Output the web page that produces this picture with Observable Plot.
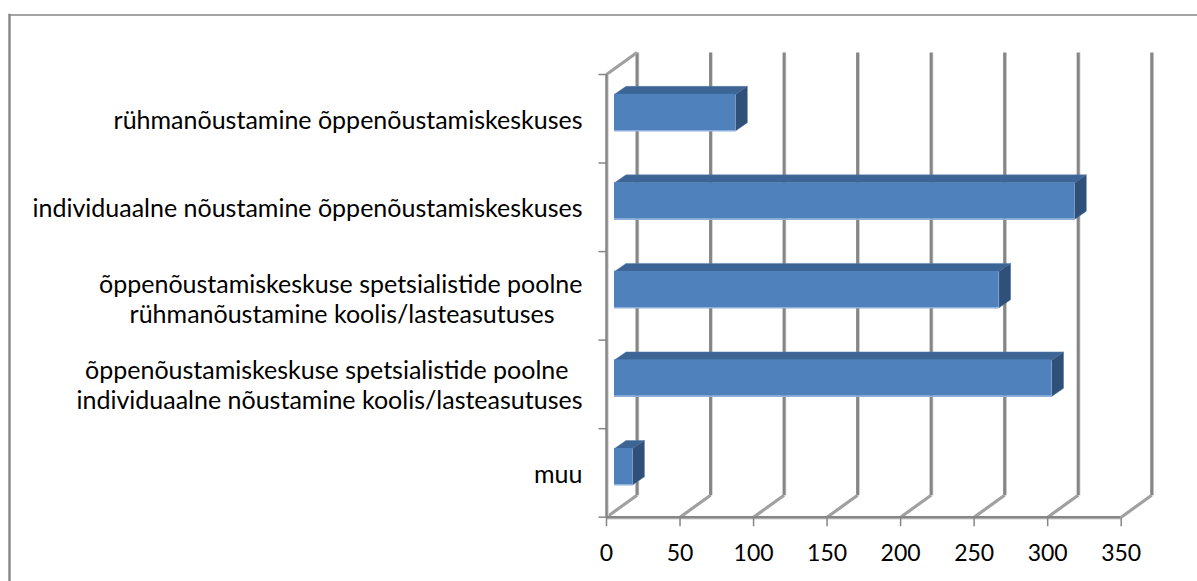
<!DOCTYPE html>
<html><head><meta charset="utf-8">
<script src="https://cdn.jsdelivr.net/npm/d3@7"></script>
<script src="https://cdn.jsdelivr.net/npm/@observablehq/plot@0.6"></script>
<style>html,body{margin:0;padding:0;background:#fff}svg{display:block}</style>
</head><body><script>
const values = [12.5, 297.5, 261.5, 313, 82.5];
const labelLines = [
  ["muu"],
  ["õppenõustamiskeskuse spetsialistide poolne","individuaalne nõustamine koolis/lasteasutuses"],
  ["õppenõustamiskeskuse spetsialistide poolne","rühmanõustamine koolis/lasteasutuses"],
  ["individuaalne nõustamine õppenõustamiskeskuses"],
  ["rühmanõustamine õppenõustamiskeskuses"]
];
const xTicks = [0,50,100,150,200,250,300,350];
const yTicks = [0,1,2,3,4,5];

const ppu = (1120.7-606)/350, ppy = (516.7-74)/5;
const wallX = 30.5/ppu, wallY = 22/ppy;
const gray = "#868686", light = "#d0d0d0";
const barFront = "#4f81bd", barTop = "#3c6494", barSide = "#2f5079", barEdge="#8fb0dc";
const gap = 8/ppu, lift = 8.5/ppy, depthX = 11.5/ppu, depthY = 8/ppy;
const y1 = 0.27, y2 = 0.68;

const bars = values.map((v,i)=>({i, x1:gap, x2:v+gap, y1:i+y1+lift, y2:i+y2+lift}));
const topFace = bars.flatMap(b=>[[b.x1,b.y2],[b.x1+depthX,b.y2+depthY],[b.x2+depthX,b.y2+depthY],[b.x2,b.y2]].map(p=>({i:b.i,x:p[0],y:p[1]})));
const sideFace = bars.flatMap(b=>[[b.x2,b.y1],[b.x2+depthX,b.y1+depthY],[b.x2+depthX,b.y2+depthY],[b.x2,b.y2]].map(p=>({i:b.i,x:p[0],y:p[1]})));

const lab = labelLines.flatMap((lines,i)=>lines.map((t,k)=>({t,i,k,n:lines.length})));
const lineY = d => d.i+0.5 + (d.n===1 ? 0 : (d.k===0 ? 15 : -15)/ppy);
const rightEdge = d => d.n===1 ? 0 : (d.i===1 ? (d.k===0?-14:0) : (d.k===0?0:-28));
const rowDy = [2,2,4,2,2];
const labelMarks = [...new Set(lab.map(rightEdge))].map(off =>
  Plot.text(lab.filter(d=>rightEdge(d)===off), {
    x:0, y:d=>lineY(d)-rowDy[d.i]/ppy, text:"t", textAnchor:"end", dx:-24+off,
    fontSize:25, fill:"#000"
  }));

const chart = Plot.plot({
  width:1197, height:581,
  marginLeft:9, marginTop:14.5, marginRight:0, marginBottom:0,
  x:{domain:[0,350], range:[606,1120.7], axis:null},
  y:{domain:[0,5], range:[516.7,74], axis:null},
  style:{fontFamily:"Lato", background:"#fff"},
  marks:[
    Plot.frame({anchor:"left", stroke:gray, strokeWidth:2.4}),
    Plot.frame({anchor:"top", stroke:gray, strokeWidth:1.5}),
    // back wall
    Plot.link(xTicks,{x1:d=>d+wallX+1.5/ppu,x2:d=>d+wallX+1.5/ppu,y1:wallY,y2:5+wallY,stroke:light,strokeWidth:1.5}),
    Plot.link(xTicks,{x1:d=>d+wallX,x2:d=>d+wallX,y1:wallY,y2:5+wallY,stroke:gray,strokeWidth:3}),
    // floor
    Plot.link(xTicks,{x1:d=>d,y1:0,x2:d=>d+wallX,y2:wallY,stroke:"#a0a0a0",strokeWidth:3.2}),
    // side wall
    Plot.link([0],{x1:0,y1:5,x2:wallX,y2:5+wallY,stroke:"#a0a0a0",strokeWidth:3.2}),
    Plot.ruleX([0],{y1:0,y2:5,dx:1.5,stroke:light,strokeWidth:1.5}),
    Plot.ruleX([0],{y1:0,y2:5,stroke:gray,strokeWidth:2.5}),
    Plot.ruleY([0],{x1:0,x2:350,dy:1.5,stroke:light,strokeWidth:1.5}),
    Plot.ruleY([0],{x1:0,x2:350,stroke:gray,strokeWidth:2.5}),
    // ticks
    Plot.link(xTicks,{x1:d=>d,x2:d=>d,y1:0,y2:-9/ppy,stroke:gray,strokeWidth:1.5}),
    Plot.link(yTicks,{x1:-8/ppu,x2:0,y1:d=>d,y2:d=>d,stroke:gray,strokeWidth:1.5}),
    Plot.text(xTicks,{x:d=>d,y:0,text:d=>String(d),dy:36,fontSize:23,fill:"#000"}),
    // bars
    Plot.line(topFace,{x:"x",y:"y",z:"i",curve:"linear-closed",fill:barTop,stroke:"#5a7fae",strokeWidth:0.5}),
    Plot.line(sideFace,{x:"x",y:"y",z:"i",curve:"linear-closed",fill:barSide,stroke:"#4a6a96",strokeWidth:0.5}),
    Plot.rect(bars,{x1:"x1",x2:"x2",y1:"y1",y2:"y2",fill:barFront}),
    Plot.ruleY(bars,{x1:"x1",x2:"x2",y:"y1",stroke:barEdge,strokeWidth:1.5}),
    ...labelMarks
  ]
});
document.body.appendChild(chart);
</script></body></html>
